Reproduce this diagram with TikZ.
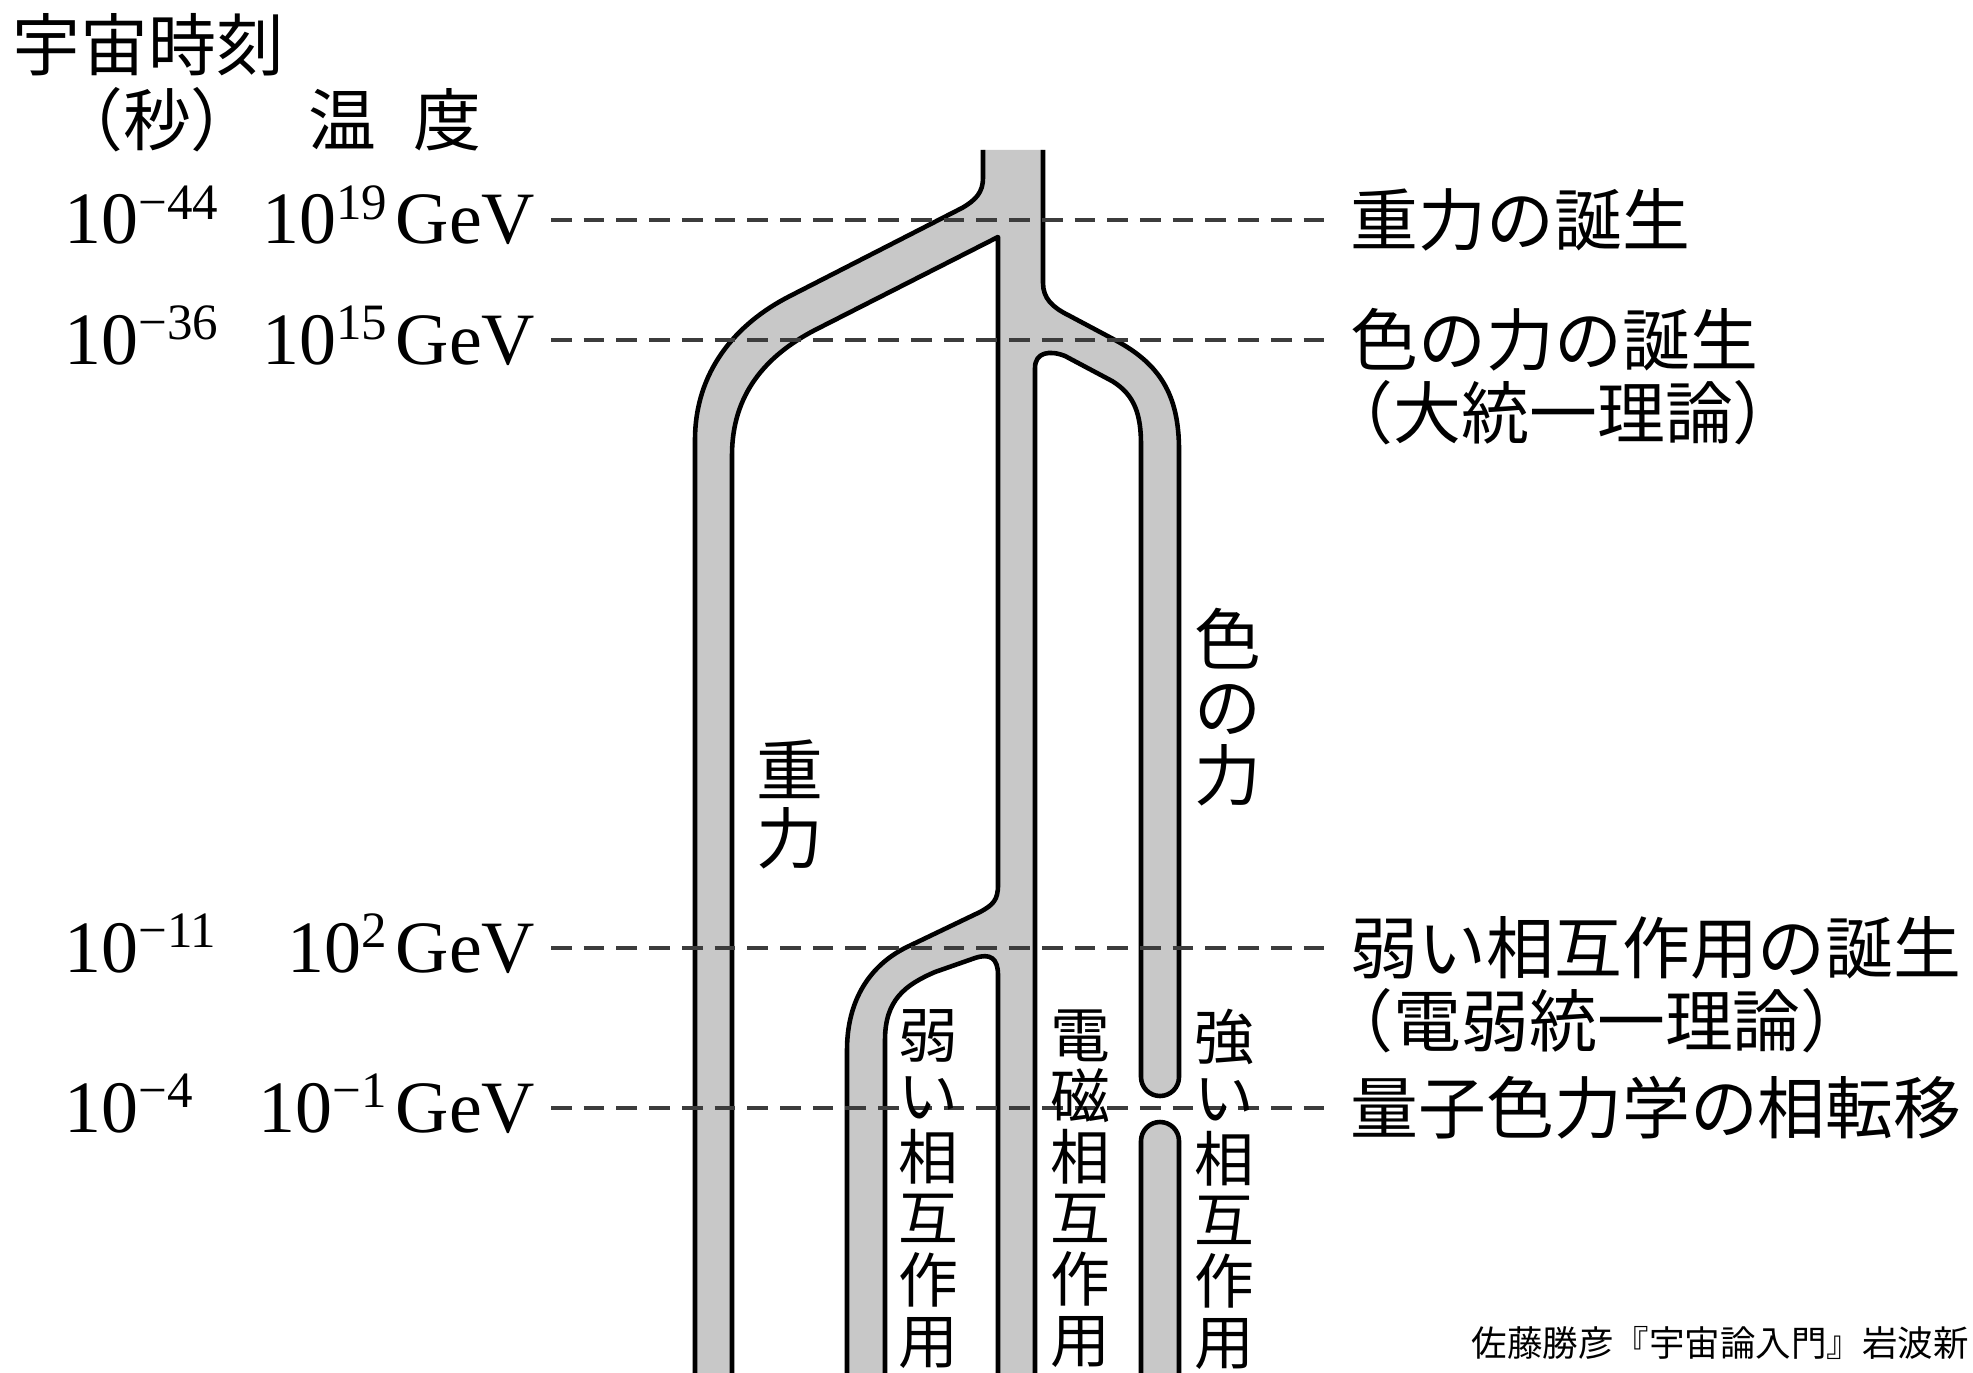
\documentclass[tikz,border=0pt]{standalone}
\usepackage{fontspec}
\setmainfont{Liberation Serif}
\newfontfamily\cjk{Noto Sans CJK JP}
\definecolor{tubegray}{RGB}{200,200,200}
\definecolor{dashgray}{RGB}{60,60,60}
\newcommand\pexp[1]{\raisebox{7pt}{\fontsize{14.5}{14.5}\selectfont #1}}
\def\sA{(695,1400) -- (695,440) .. controls (695,372) and (735,324) .. (790,296) -- (962,208) .. controls (976,200) and (983,192) .. (983,178) -- (983,150)}
\def\sB{(1043,150) -- (1043,283) .. controls (1043,298) and (1052,307) .. (1068,315) -- (1115,340) .. controls (1160,364) and (1179,395) .. (1179,450) -- (1179,1077) .. controls (1179,1087.5) and (1170.5,1096) .. (1160,1096) .. controls (1149.5,1096) and (1141,1087.5) .. (1141,1077) -- (1141,445) .. controls (1141,415) and (1135,395) .. (1112,381) -- (1065,356) .. controls (1050,350) and (1035,352) .. (1035,368) -- (1035,1400)}
\def\sC{(998,1400) -- (998,975) .. controls (998,958) and (990,953) .. (975,958) -- (935,972) .. controls (905,985) and (885,1000) .. (885,1040) -- (885,1400)}
\def\sD{(847,1400) -- (847,1050) .. controls (847,1000) and (870,965) .. (907,947) -- (980,912) .. controls (993,905) and (998,900) .. (998,885) -- (998,237) -- (815,330) .. controls (765,356) and (732,395) .. (732,455) -- (732,1400)}
\def\sE{(1141,1400) -- (1141,1141) .. controls (1141,1130.5) and (1149.5,1122) .. (1160,1122) .. controls (1170.5,1122) and (1179,1130.5) .. (1179,1141) -- (1179,1400)}
\begin{document}
\begin{tikzpicture}[x=0.01cm,y=-0.01cm,
  tubeline/.style={line width=1.3pt, line join=round},
  dashline/.style={draw=dashgray, line width=1.3pt, dash pattern=on 0.207cm off 0.12cm},
  num/.style={inner sep=0pt, font=\fontsize{21}{25}\selectfont},
  jlab/.style={inner sep=0pt, font=\cjk\fontsize{19.3}{23}\selectfont},
  vlab/.style={inner sep=0pt, align=center, font=\cjk\fontsize{19}{19.35}\selectfont},
  vlabs/.style={inner sep=0pt, align=center, font=\cjk\fontsize{17}{17.36}\selectfont},
  cite/.style={inner sep=0pt, font=\cjk\fontsize{10.1}{12}\selectfont}]
\useasboundingbox (0,0) rectangle (1973,1373);
\begin{scope}
\clip (0,0) rectangle (1973,1373);
% tubes
\fill[tubegray] \sA -- \sB -- \sC -- \sD -- cycle;
\fill[tubegray] \sE -- cycle;
\draw[tubeline] \sA;
\draw[tubeline] \sB;
\draw[tubeline] \sC;
\draw[tubeline] \sD;
\draw[tubeline] \sE;
% epoch lines
\coordinate (d1s) at (551,220);  \coordinate (d1e) at (1336,220);
\coordinate (d2s) at (551,340);  \coordinate (d2e) at (1336,340);
\coordinate (d3s) at (551,948);  \coordinate (d3e) at (1336,948);
\coordinate (d4s) at (551,1108); \coordinate (d4e) at (1336,1108);
\draw[dashline] (d1s) -- (d1e);
\draw[dashline] (d2s) -- (d2e);
\draw[dashline] (d3s) -- (d3e);
\draw[dashline] (d4s) -- (d4e);
% headers
\node[jlab, anchor=west] (h1) at (12,45) {宇宙時刻};
\node[jlab] (h2) at (157,120) {（秒）};
\node[jlab] (h3) at (395,120) {温\kern0.55em度};
% times
\node[num, anchor=base west] (s1) at (64,244) {10\pexp{−44}};
\node[num, anchor=base west] (s2) at (64,364) {10\pexp{−36}};
\node[num, anchor=base west] (s3) at (64,972) {10\pexp{−11}};
\node[num, anchor=base west] (s4) at (64,1132) {10\pexp{−4}};
% temperatures
\node[num, anchor=base east] (t1) at (536,244) {10\pexp{19}\kern0.12em GeV};
\node[num, anchor=base east] (t2) at (536,364) {10\pexp{15}\kern0.12em GeV};
\node[num, anchor=base east] (t3) at (536,972) {10\pexp{2}\kern0.12em GeV};
\node[num, anchor=base east] (t4) at (536,1132) {10\pexp{−1}\kern0.12em GeV};
% events
\node[jlab, anchor=west] (r1) at (1350,220) {重力の誕生};
\node[jlab, anchor=west] (r2) at (1350,340) {色の力の誕生};
\node[jlab, anchor=west] (r2b) at (1325,413) {（大統一理論）};
\node[jlab, anchor=west] (r3) at (1350,948) {弱い相互作用の誕生};
\node[jlab, anchor=west] (r3b) at (1325,1021) {（電弱統一理論）};
\node[jlab, anchor=west] (r4) at (1350,1108) {量子色力学の相転移};
% force labels
\node[vlab] (v1) at (790,804) {重\\力};
\node[vlab] (v2) at (1228,707) {色\\の\\力};
\node[vlabs] (v3) at (928,1189) {弱\\い\\相\\互\\作\\用};
\node[vlabs] (v4) at (1080,1189) {電\\磁\\相\\互\\作\\用};
\node[vlabs] (v5) at (1224,1189) {強\\い\\相\\互\\作\\用};
% source
\node[cite, anchor=west] (c1) at (1471,1343) {佐藤勝彦『宇宙論入門』岩波新};
\end{scope}
\end{tikzpicture}
\end{document}
